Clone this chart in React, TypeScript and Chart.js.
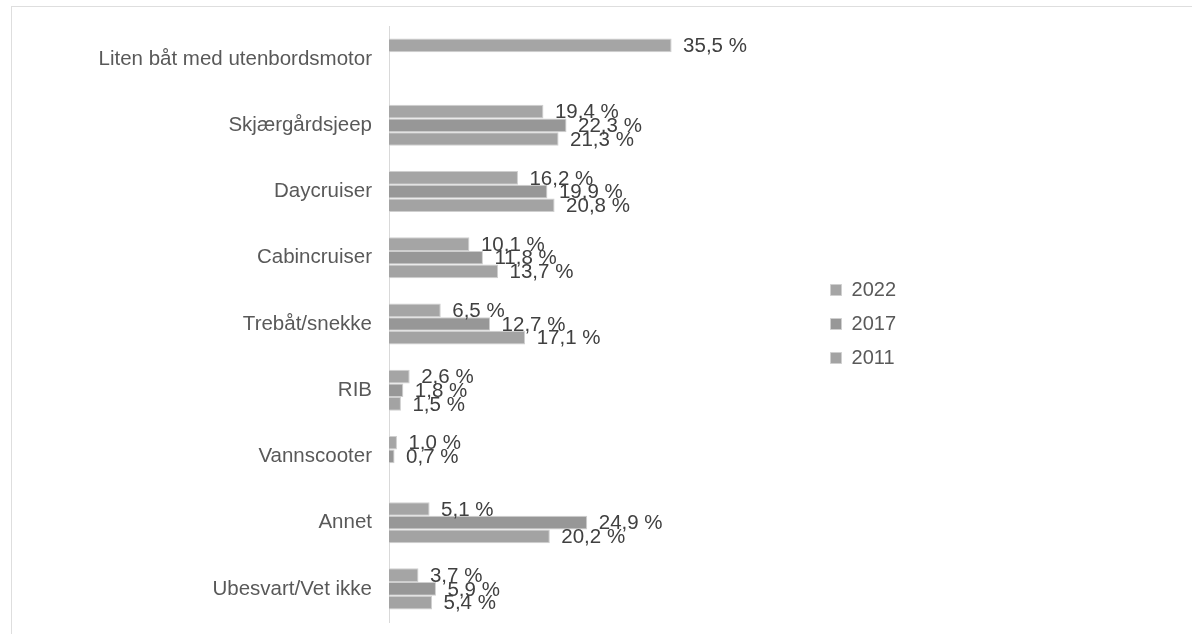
import React, { useEffect, useRef } from "react";
import { Chart, registerables } from "chart.js";

Chart.register(...registerables);

const categories = [
  "Liten båt med utenbordsmotor",
  "Skjærgårdsjeep",
  "Daycruiser",
  "Cabincruiser",
  "Trebåt/snekke",
  "RIB",
  "Vannscooter",
  "Annet",
  "Ubesvart/Vet ikke",
];
const seriesNames = ["2022", "2017", "2011"];
const values2022 = [35.5, 19.4, 16.2, 10.1, 6.5, 2.6, 1.0, 5.1, 3.7];
const values2017 = [null, 22.3, 19.9, 11.8, 12.7, 1.8, 0.7, 24.9, 5.9];
const values2011 = [null, 21.3, 20.8, 13.7, 17.1, 1.5, null, 20.2, 5.4];

const FONT = "'Liberation Sans', Arial, sans-serif";

const fmt = (v: number) => v.toFixed(1).replace(".", ",") + " %";

const dataLabelPlugin = {
  id: "dataLabels",
  afterDatasetsDraw(chart: any) {
    const ctx = chart.ctx;
    ctx.save();
    ctx.font = `20.5px ${FONT}`;
    ctx.fillStyle = "#404040";
    ctx.textAlign = "left";
    ctx.textBaseline = "middle";
    chart.data.datasets.forEach((ds: any, di: number) => {
      const meta = chart.getDatasetMeta(di);
      meta.data.forEach((el: any, i: number) => {
        const v = ds.data[i];
        if (v === null || v === undefined) return;
        ctx.fillText(fmt(v), el.x + 11.5, el.y + 1);
      });
    });
    ctx.restore();
  },
};

export default function App() {
  const ref = useRef<HTMLCanvasElement | null>(null);

  useEffect(() => {
    if (!ref.current) return;
    const colors = ["#a5a5a5", "#979797", "#a3a3a3"];
    const all = [values2022, values2017, values2011];
    const chart = new Chart(ref.current, {
      type: "bar",
      data: {
        labels: categories,
        datasets: seriesNames.map((name, i) => ({
          label: name,
          data: all[i] as any,
          backgroundColor: colors[i],
          borderColor: "#cfcfcf",
          borderWidth: 1,
          barPercentage: 1,
          categoryPercentage: 0.62,
        })),
      },
      options: {
        indexAxis: "y",
        responsive: false,
        animation: false,
        devicePixelRatio: 1,
        layout: { padding: { top: 26, bottom: 12, left: 0, right: 286 } },
        scales: {
          x: {
            display: false,
            min: 0,
            max: 53.7,
          },
          y: {
            grid: { display: false, drawTicks: false },
            border: { display: true, color: "#d9d9d9", width: 1 },
            ticks: {
              color: "#595959",
              font: { family: FONT, size: 20.5 },
              padding: 17,
            },
            afterFit: (scale: any) => {
              scale.width = 389;
              scale.paddingTop = 0;
              scale.paddingBottom = 0;
            },
          },
        },
        plugins: {
          tooltip: { enabled: false },
          legend: {
            position: "right",
            align: "center",
            labels: {
              boxWidth: 11,
              boxHeight: 11,
              padding: 14,
              color: "#595959",
              font: { family: FONT, size: 20 },
            },
          },
        },
      },
      plugins: [dataLabelPlugin],
    });
    return () => chart.destroy();
  }, []);

  return (
    <div
      style={{
        position: "fixed",
        left: 0,
        top: 0,
        width: 1192,
        height: 634,
        overflow: "hidden",
        background: "#fff",
      }}
    >
      <div
        style={{
          position: "absolute",
          left: 11,
          top: 6,
          width: 1300,
          height: 800,
          border: "1px solid #dedede",
        }}
      />
      <canvas
        ref={ref}
        width={1192}
        height={634}
        style={{ position: "absolute", left: 0, top: 0, width: 1192, height: 634 }}
      />
    </div>
  );
}
